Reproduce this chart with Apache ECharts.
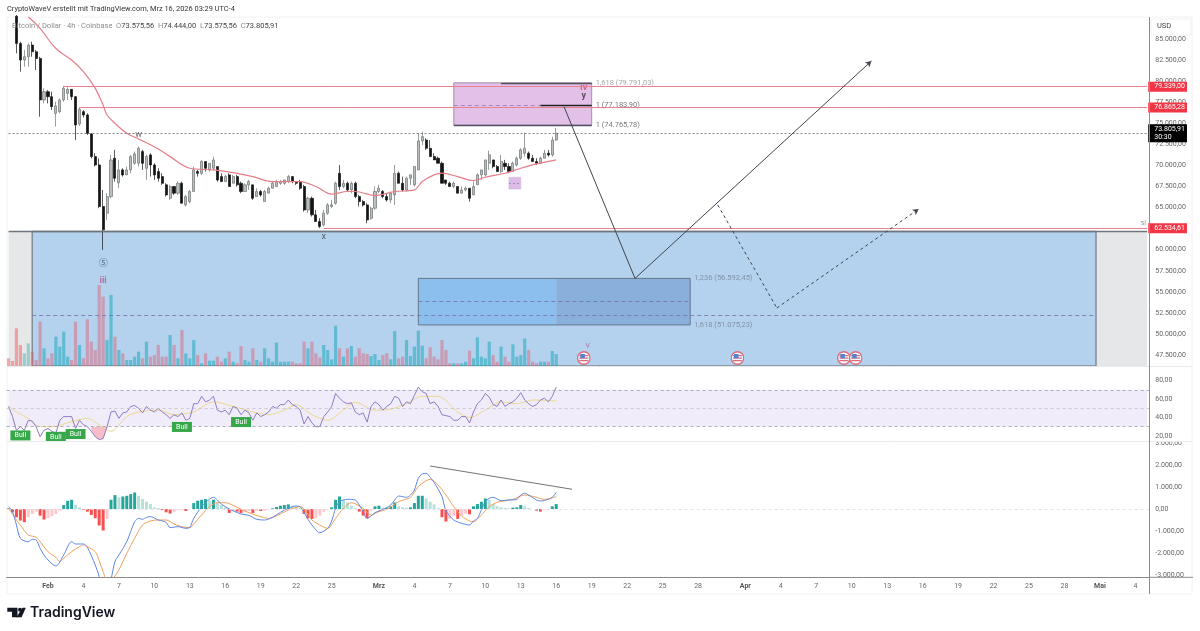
<!DOCTYPE html>
<html lang="de">
<head>
<meta charset="UTF-8">
<title>Bitcoin / Dollar 4h</title>
<script src="https://cdn.jsdelivr.net/npm/echarts@6/dist/echarts.min.js"></script>
<style>
  html, body { margin: 0; padding: 0; background: #fff; }
  #main { width: 1200px; height: 631px; }
</style>
</head>
<body>
<div id="main"></div>
<script>
// x axis: one slot per 8h, Feb 1 is slot 10
var slotCount = 290;
var tickIndex = [10,19,28,37,46,55,64,73,82,94,103,112,121,130,139,148,157,166,175,187,196,205,214,223,232,241,250,259,268,277,286];
var tickLabels = ['Feb','4','7','10','13','16','19','22','25','Mrz','4','7','10','13','16','19','22','25','28','Apr','4','7','10','13','16','19','22','25','28','Mai','4'];
var monthLabels = ['Feb','Mrz','Apr','Mai'];

// [open, close, low, high], the first two bars are above the visible range
var candles = [
  ['-','-','-','-'],['-','-','-','-'],[87700,84470,83290,87830],[84470,82500,81120,84670],[82500,82890,81710,83680],
  [82890,84270,81710,84470],[84270,83480,82890,84670],[83480,82690,81310,83680],[82690,77760,75780,82890],[77760,78740,77360,79140],
  [78740,78150,77360,78940],[78150,76970,76570,78740],[76170,77050,74600,77560],[76370,77760,76170,77950],[77760,79140,77560,79420],
  [78550,79020,77760,79260],[79020,78150,77760,78860],[78150,74790,73020,78230],[74910,76650,74680,76890],[76370,75980,75700,76570],
  [75980,73810,73610,76170],[73730,71040,70840,73810],[71040,70050,69860,71440],[70050,65120,64920,70840],[65120,62350,59980,67090],
  [64330,66300,63540,66700],[66300,70640,66100,71240],[70840,68470,68080,71840],[67930,69460,67290,70640],[69460,68870,68670,69660],
  [68870,69460,68870,69860],[69460,71040,69070,71240],[70250,71360,70050,71640],[70250,72030,69860,72240],[71640,70250,69460,71840],
  [69660,71040,68280,71240],[71240,70050,68670,71440],[70050,68870,68280,70250],[69260,68480,68080,69660],[68670,67880,67690,69070],
  [67690,66500,66300,67880],[66100,67490,65910,67690],[67490,66700,66500,67490],[66700,67880,66500,68080],[67880,65510,65510,68080],
  [65310,66300,65120,66500],[65710,66900,65510,67090],[66900,69460,66900,69860],[69260,69060,68670,69460],[69060,70450,68870,70640],
  [70450,69660,69260,70450],[69460,70250,69260,70250],[69660,70640,69460,71040],[69860,68270,68080,69860],[68670,68080,68080,69060],
  [68080,68670,68080,68870],[68870,67490,67490,69060],[67880,68670,67880,68870],[68670,67690,67490,68870],[67880,66900,66700,68080],
  [66900,67690,66900,67880],[67690,68080,67090,68280],[67690,66100,65910,67690],[66300,66900,66300,67290],[66900,66500,66300,67090],
  [65710,66900,65710,67090],[66700,67290,66700,67490],[67290,67880,67290,68080],[67490,68080,67490,68280],[67880,68080,67690,68280],
  [67880,68280,67690,68280],[68080,68670,67880,68870],[68670,68080,67880,68670],[68080,67880,67690,68080],[68080,67290,67090,68280],
  [67490,64720,64520,67690],[64720,66100,64330,66300],[66100,64130,63930,66300],[64130,63340,63340,64720],[63340,62750,62550,63740],
  [62950,64330,62750,64720],[64330,65320,64130,65510],[65120,65320,64920,65910],[65510,67880,65320,68080],[69060,67490,67090,70050],
  [67490,67880,67290,68280],[67880,67090,66900,68080],[67090,67880,66700,68080],[67880,66300,66100,68080],[66300,65710,65120,66500],
  [65710,65310,65120,65910],[65310,63530,63130,65510],[63730,64920,63530,65120],[64920,66900,64720,67490],[66900,67290,66700,67690],
  [66900,66300,66100,67090],[66300,65900,65710,66700],[65900,66700,65510,66900],[66500,69070,65310,70050],[69070,67880,67880,69260],
  [67880,67090,66890,68670],[67090,68470,66890,68670],[68470,68880,67690,68880],[67690,69860,67490,69860],[69460,72900,69460,73800],
  [72900,73410,72420,74000],[73010,72030,71830,73210],[72030,71040,71040,73010],[71040,70650,70650,71440],[70850,70250,70250,71040],
  [70250,67880,67880,70450],[68270,67880,67690,68270],[67880,67490,67490,68080],[67490,67880,67290,68080],[67490,66700,66700,67490],
  [66700,67090,66700,67490],[67090,67290,66900,67490],[67290,66100,65710,67290],[66500,67490,66500,68080],[67690,68880,67690,69070],
  [68880,69460,68280,69460],[68870,70650,68670,70650],[70250,71250,69460,71750],[70650,69860,69660,70650],[69860,69260,69260,70050],
  [69260,70450,69070,71240],[70250,69860,69460,70650],[69860,69260,69070,70250],[69260,70250,69260,70450],[70050,70850,69860,71040],
  [70850,71840,70650,72030],[71440,72030,71040,73880],[71440,70850,70650,71640],[70850,70450,70450,71240],[70450,70250,70050,70850],
  [70250,70850,70250,71040],[70850,71440,70850,71840],[71440,71240,71050,71840],[71240,73010,71040,73410],[73010,73806,72900,74444]
];

var volumes = [
  23,15,113,63,38,68,43,18,133,53,
  23,38,88,58,103,28,18,133,63,23,
  140,73,48,243,208,78,213,88,48,38,
  18,18,28,43,23,73,28,33,63,28,
  28,93,63,23,108,38,23,78,33,8,
  38,16,16,28,13,23,43,13,8,60,
  18,13,53,18,13,53,23,13,70,13,
  13,13,13,8,8,73,53,73,38,25,
  63,48,20,121,53,28,53,60,28,53,
  38,36,30,36,18,33,38,20,105,23,
  28,78,30,58,106,61,23,56,28,20,
  78,48,8,8,8,8,13,46,23,86,
  28,23,73,33,13,58,28,13,65,28,
  33,82,48,13,8,13,13,13,45,36
];
// direction of the two bars with no visible candle
var firstBarsUp = [false, false];

// moving average on price, read at these slots
var maIndex = [5,8,11,13,16,19,22,24,25,27,30,33,38,41,46,52,57,62,67,71,74,78,82,86,88,93,98,103,105,108,110,114,118,121,126,130,134,139];
var maValues = [87630,86250,84390,83480,82500,81110,79140,77160,75980,74990,73810,73130,71950,71040,69660,69460,69150,68670,68080,68080,68080,67490,66580,66900,66900,66420,66900,67090,68080,68870,69070,68670,68200,68590,69070,69660,70170,70650];

var rsi = [
  52,41,26,30,26,37,36,30,19,26,
  28,25,23,37,41,41,41,28,37,32,
  30,25,19,16,17,30,46,47,39,45,
  46,52,53,50,45,52,48,46,50,46,
  43,39,43,41,45,37,39,55,55,63,
  57,59,63,48,46,48,43,52,50,43,
  48,45,37,45,41,43,46,52,50,54,
  54,59,54,52,48,33,41,34,30,30,
  41,46,52,66,61,57,55,56,46,43,
  45,35,52,57,54,48,52,55,63,61,
  52,57,55,64,73,68,66,55,57,52,
  43,42,41,37,37,41,41,34,46,55,
  59,66,62,54,52,59,52,55,57,61,
  67,59,55,52,54,59,61,57,63,73
];
var rsiMaIndex = [0,2,5,8,11,16,20,23,26,30,33,38,42,47,52,57,62,66,70,73,77,81,85,88,93,97,101,105,109,114,117,121,125,129,133,139];
var rsiMaValues = [52,46,39,30,30,35.5,39,32,25,41,46,48,43,46,57,52,46,43,48,54,43,37,48,56.5,48,49,55,63,63,46,40,48,57,55,59,58];

var macdIndex = [0,1,2,3,5,6,7,8,9,10,12,14,16,17,18,19,20,22,23,24,25,26,27,28,30,32,33,34,35,36,38,40,41,43,45,46,47,49,50,52,53,54,56,59,61,63,65,67,69,71,73,74,75,76,77,79,81,82,83,84,86,88,89,90,91,92,93,95,96,97,98,99,100,101,102,103,104,105,106,107,108,110,111,113,115,117,118,119,120,121,122,123,125,127,129,130,131,132,134,135,137,138,139];
var macdValues = [106,-121,-727,-1333,-1485,-1379,-1409,-1788,-2090,-2318,-2590,-2090,-1485,-1590,-1590,-1590,-1742,-2545,-3075,-3985,-4136,-3227,-2394,-2090,-1485,-576,-424,-470,-379,-348,-500,-606,-848,-803,-879,-833,-424,106,303,530,409,227,0,-227,-288,-470,-500,-379,-152,30,136,106,-167,-470,-727,-1076,-879,-545,30,333,439,409,182,-121,-424,-318,-167,-15,61,182,409,591,561,530,636,864,1394,1591,1621,1439,1212,561,-76,-500,-651,-727,-545,-424,-45,333,485,530,379,409,439,636,712,636,409,364,439,530,758];
var signalIndex = [0,2,3,4,5,7,8,10,12,13,14,16,18,19,20,22,23,24,25,26,27,28,30,32,34,36,38,40,42,44,46,47,49,51,53,55,58,61,64,66,69,71,74,77,79,81,83,85,87,90,92,94,96,99,102,104,106,107,109,111,113,115,117,118,120,122,124,128,131,134,136,139];
var signalValues = [30,-500,-727,-985,-1182,-1288,-1485,-1939,-2197,-2394,-2242,-1939,-1712,-1636,-1712,-1939,-2348,-2848,-3227,-3227,-3045,-2772,-2015,-1333,-727,-545,-500,-500,-682,-803,-848,-682,-273,106,288,288,76,-167,-348,-424,-227,-45,106,-500,-727,-879,-424,30,288,30,-273,-121,-15,333,530,1015,1288,1348,1091,636,106,-318,-545,-576,-273,106,303,439,636,530,439,561];
var macdHist = [
  30,-150,-375,-525,-600,-375,-225,-120,-300,-480,
  -420,-330,-225,-75,180,375,420,180,75,-30,
  -120,-270,-420,-750,-975,-450,420,630,525,570,
  600,675,750,600,450,330,225,75,45,-45,
  -150,-210,-120,-45,-30,-90,0,270,375,420,
  450,375,420,300,180,75,-180,-75,-120,-180,
  -150,-90,-180,-75,-90,-75,-30,30,90,150,
  180,210,150,120,45,-225,-420,-450,-420,-300,
  -120,-30,75,420,570,420,300,150,30,-120,
  -300,-420,-75,120,150,60,60,120,300,120,
  75,60,75,270,600,600,480,330,210,45,
  -375,-570,-450,-330,-450,-300,-210,-240,120,225,
  330,480,420,225,120,75,45,30,60,75,
  180,120,45,0,-75,-120,-30,-30,120,225
];

// axis ticks
var priceTicks = [85000,82500,80000,77500,75000,72500,70000,67500,65000,62500,60000,57500,55000,52500,50000,47500];
var rsiTicks = [80,60,40,20];
var macdTicks = [3000,2000,1000,0,-1000,-2000,-3000];

// drawn levels
var lastPrice = 73805.91;
var resistance1 = 79339, resistance2 = 76865.28, stopLevel = 62534.61;
var zoneTop = 62157, zoneMid = 52169;
var purpleTop = 79791.03, purpleMid = 77183.90, purpleBottom = 74765.78;
var blueTop = 56592.45, blueMid = 53829, blueBottom = 51075.23;
var smallBoxTop = 68587, smallBoxBottom = 67199, smallBoxMid = 67900;

// wave path as slot + price
var solidIndex = [141,159,219];
var solidPrice = [76926,56592,82382];
var dashedIndex = [180,195,231];
var dashedPrice = [65301,53082,64826];

// wave notes
var noteIndex = [33,80,24,24,146,146,147,288];
var notePrice = [73604,61505,58420,56286,79180,78231,48580,63172];
var noteText = ['w','x','⑤','iii','iv','y','v','si'];
var noteColor = ['#444','#444','#2d4a6a','#b5558a','#e0406a','#333','#a56fae','#777'];

var fibIndex = [149,149,149,174,174];
var fibPrice = [79791,77184,74766,56592,51075];
var fibText = ['1,618 (79.791,03)','1 (77.183,90)','1 (74.765,78)','1,236 (56.592,45)','1,618 (51.075,23)'];
var fibColor = ['#8f8f8f','#555','#555','#75859a','#75859a'];

var flagIndex = [146,185,212,215];
var flagPrice = 47151;

var FONT = 'Roboto, "Liberation Sans", sans-serif';
var categories = [];
for (var i = 0; i < slotCount; i++) categories.push(String(i));

function de(v) {
  return v.toLocaleString('de-DE', {minimumFractionDigits: 2, maximumFractionDigits: 2});
}
function pairs(xs, ys) {
  return xs.map(function (x, k) { return [x, ys[k]]; });
}
function isUp(k) {
  return k < firstBarsUp.length ? firstBarsUp[k] : candles[k][1] >= candles[k][0];
}
function seg(i1, p1, i2, p2, color, width, type) {
  return [
    {coord: [i1, p1], lineStyle: {color: color, width: width, type: type || 'solid'}},
    {coord: [i2, p2]}
  ];
}
function box(i1, p1, i2, p2, fill, border, bw) {
  return [
    {coord: [i1, p1], itemStyle: {color: fill, borderColor: border || 'transparent', borderWidth: bw || 0}},
    {coord: [i2, p2]}
  ];
}
function tagLine(start, price, text) {
  return [
    {coord: [start, price], lineStyle: {color: '#e8818d', width: 1, type: 'solid'},
      label: {show: true, position: 'end', distance: 1, formatter: text, color: '#fff', fontSize: 7, fontFamily: FONT,
        backgroundColor: '#f23645', padding: [2, 2, 1, 6]}},
    {coord: [289, price]}
  ];
}
function xAxis(gridIndex, show) {
  return {
    type: 'category', gridIndex: gridIndex, data: categories,
    axisLine: {show: show, onZero: false, lineStyle: {color: '#888'}},
    axisTick: {show: false}, splitLine: {show: false},
    axisLabel: {
      show: show, margin: 5, fontSize: 7, color: '#666', fontFamily: FONT,
      interval: function (idx) { return tickIndex.indexOf(idx) >= 0; },
      formatter: function (val, idx) {
        var t = tickLabels[tickIndex.indexOf(idx)];
        return monthLabels.indexOf(t) >= 0 ? '{b|' + t + '}' : t;
      },
      rich: {b: {fontSize: 7, fontWeight: 'bold', color: '#555', fontFamily: FONT}}
    }
  };
}
function yAxis(gridIndex, min, max, ticks, fmt) {
  return {
    type: 'value', gridIndex: gridIndex, position: 'right', min: min, max: max, scale: true,
    axisLine: {show: false}, axisTick: {show: false}, splitLine: {show: false},
    axisLabel: {show: true, customValues: ticks, margin: 6, fontSize: 7, color: '#666', fontFamily: FONT, formatter: fmt}
  };
}

var flagSvg = '<svg xmlns="http://www.w3.org/2000/svg" width="28" height="28" viewBox="0 0 28 28">' +
  '<circle cx="14" cy="14" r="12.5" fill="#fff" stroke="#e8545f" stroke-width="2.6"/>' +
  '<rect x="5" y="8" width="18" height="2.4" fill="#e8545f"/><rect x="5" y="13" width="18" height="2.4" fill="#e8545f"/>' +
  '<rect x="5" y="18" width="18" height="2.4" fill="#e8545f"/><rect x="7" y="6" width="9" height="8.5" fill="#3f6fc4"/></svg>';

var myChart = echarts.init(document.getElementById('main'), null, {renderer: 'canvas'});

var option = {
  animation: false,
  backgroundColor: '#fff',
  grid: [
    {left: 6.6, width: 1142.6, top: 17, height: 349},
    {left: 6.6, width: 1142.6, top: 366.5, height: 75},
    {left: 6.6, width: 1142.6, top: 441.5, height: 135.8}
  ],
  xAxis: [xAxis(0, false), xAxis(0, false), xAxis(1, false), xAxis(2, true)],
  yAxis: [
    yAxis(0, 46202, 87602, priceTicks, de),
    {type: 'value', gridIndex: 0, min: 0, max: 1047, show: false, splitLine: {show: false}},
    yAxis(1, 13.9, 95.4, rsiTicks, de),
    yAxis(2, -3105, 3068, macdTicks, de)
  ],
  series: [
    // zones and boxes behind the candles
    {
      type: 'line', xAxisIndex: 0, yAxisIndex: 0, data: [], silent: true,
      markArea: {
        silent: true,
        data: [
          box(0, zoneTop, 289, 46202, '#e6e7e9'),
          box(6, zoneTop, 276, 46202, '#b4d1ed', '#7d8792', 1.4),
          box(113, purpleTop, 148, purpleBottom, '#e3c0e8', '#8a7f95', 0.8),
          box(104, blueTop, 139, blueBottom, '#8dbfee'),
          box(139, blueTop, 173, blueBottom, '#88b0da'),
          box(104, blueTop, 173, blueBottom, 'transparent', '#66788f', 1),
          box(127, smallBoxTop, 130, smallBoxBottom, '#dcbce6', '#cdb3dc', 0.6)
        ]
      }
    },
    {
      type: 'bar', xAxisIndex: 0, yAxisIndex: 1, barWidth: 3.2, silent: true, data: volumes,
      itemStyle: {color: function (p) {
        if (p.dataIndex < 6) return isUp(p.dataIndex) ? 'rgba(38,166,154,0.4)' : 'rgba(242,90,90,0.5)';
        return isUp(p.dataIndex) ? 'rgba(30,170,190,0.55)' : 'rgba(225,90,110,0.45)';
      }}
    },
    {
      type: 'candlestick', xAxisIndex: 0, yAxisIndex: 0, barWidth: 2.6, silent: true, clip: true, data: candles,
      itemStyle: {color: '#b9bfbf', color0: '#141414', borderColor: '#6f7474', borderColor0: '#141414', borderWidth: 0.7}
    },
    {
      type: 'line', xAxisIndex: 0, yAxisIndex: 0, smooth: 0.35, symbol: 'none', silent: true,
      data: pairs(maIndex, maValues), lineStyle: {color: '#e67c88', width: 1.2}
    },
    // price levels and drawn lines
    {
      type: 'line', xAxisIndex: 0, yAxisIndex: 0, data: [], silent: true,
      markLine: {
        silent: true, symbol: 'none', label: {show: false},
        data: [
          tagLine(14, resistance1, de(resistance1)),
          tagLine(18, resistance2, de(resistance2)),
          tagLine(80, stopLevel, de(stopLevel)),
          [{coord: [0, lastPrice], lineStyle: {color: '#666', width: 0.8, type: [2, 2]},
            label: {show: true, position: 'end', distance: 1, color: '#fff', fontSize: 7, fontFamily: FONT, lineHeight: 8,
              backgroundColor: '#000', padding: [1, 2, 1, 6], formatter: de(lastPrice) + '\n30:30'}},
           {coord: [289, lastPrice]}],
          seg(0, zoneTop, 289, zoneTop, '#6e757d', 1.4),
          seg(6, zoneMid, 276, zoneMid, '#7a6fa8', 0.8, [4, 3]),
          seg(104, blueMid, 173, blueMid, '#6f6ea6', 0.8, [4, 3]),
          seg(113, purpleMid, 135, purpleMid, '#9a78a8', 0.8, [4, 3]),
          seg(135, purpleMid, 148, purpleMid, '#222', 1.3),
          seg(113, purpleBottom, 148, purpleBottom, '#55505f', 1.4),
          seg(125, purpleTop, 148, purpleTop, '#55505f', 1.4),
          seg(127, smallBoxMid, 130, smallBoxMid, '#9a7fb0', 0.8, [2, 2]),
          seg(solidIndex[0], solidPrice[0], solidIndex[1], solidPrice[1], '#3f4650', 1),
          seg(dashedIndex[0], dashedPrice[0], dashedIndex[1], dashedPrice[1], '#3f4650', 1, [3, 3])
        ]
      }
    },
    // the two arrow legs carry a head
    {
      type: 'line', xAxisIndex: 0, yAxisIndex: 0, data: [], silent: true,
      markLine: {
        silent: true, symbol: ['none', 'arrow'], symbolSize: [5, 6], label: {show: false},
        data: [
          seg(solidIndex[1], solidPrice[1], solidIndex[2], solidPrice[2], '#3f4650', 1),
          seg(dashedIndex[1], dashedPrice[1], dashedIndex[2], dashedPrice[2], '#3f4650', 1, [3, 3])
        ]
      }
    },
    {
      type: 'scatter', xAxisIndex: 0, yAxisIndex: 0, symbolSize: 0, silent: true,
      data: noteIndex.map(function (x, k) {
        return {value: [x, notePrice[k]], label: {show: true, position: 'inside', formatter: noteText[k], color: noteColor[k],
          fontSize: k === 7 ? 7 : 9, fontWeight: (k === 3 || k === 4 || k === 5) ? 'bold' : 'normal', fontFamily: k === 2 ? '"Noto Sans CJK SC"' : FONT}};
      })
    },
    {
      type: 'scatter', xAxisIndex: 0, yAxisIndex: 0, symbolSize: 0, silent: true,
      data: fibIndex.map(function (x, k) {
        return {value: [x, fibPrice[k]], label: {show: true, position: 'right', distance: 0, formatter: fibText[k], color: fibColor[k],
          fontSize: 7.5, fontFamily: FONT}};
      })
    },
    {
      type: 'scatter', xAxisIndex: 0, yAxisIndex: 0, silent: true, symbolSize: 14,
      symbol: 'image://data:image/svg+xml;charset=utf-8,' + encodeURIComponent(flagSvg),
      data: flagIndex.map(function (x) { return [x, flagPrice]; })
    },
    // RSI pane
    {
      type: 'line', xAxisIndex: 2, yAxisIndex: 2, data: [], silent: true,
      markArea: {silent: true, data: [box(0, 70, 289, 30, '#f0ecf9')]},
      markLine: {
        silent: true, symbol: 'none', label: {show: false},
        data: [
          {yAxis: 70, lineStyle: {color: '#a9a3b0', width: 0.9, type: [3, 3]}},
          {yAxis: 50, lineStyle: {color: '#c4bfca', width: 0.8, type: [3, 3]}},
          {yAxis: 30, lineStyle: {color: '#a9a3b0', width: 0.9, type: [3, 3]}}
        ]
      }
    },
    {
      type: 'line', xAxisIndex: 2, yAxisIndex: 2, symbol: 'none', silent: true, connectNulls: false,
      data: rsi.map(function (v, k) { return k >= 21 && k <= 25 ? v : null; }),
      lineStyle: {opacity: 0}, areaStyle: {origin: 30, color: '#f7b6c4', opacity: 0.9}
    },
    {
      type: 'line', xAxisIndex: 2, yAxisIndex: 2, smooth: 0.3, symbol: 'none', silent: true,
      data: pairs(rsiMaIndex, rsiMaValues), lineStyle: {color: '#ecd98f', width: 1}
    },
    {
      type: 'line', xAxisIndex: 2, yAxisIndex: 2, symbol: 'none', silent: true, data: rsi,
      lineStyle: {color: '#8f7cc6', width: 1},
      markPoint: {
        silent: true, symbol: 'rect', symbolSize: [20, 10],
        itemStyle: {color: '#36a84a', borderRadius: 1},
        label: {show: true, position: 'inside', formatter: 'Bull', color: '#fff', fontSize: 7, fontFamily: FONT},
        data: [{coord: [3, 20.5]}, {coord: [12, 19]}, {coord: [17, 22]}, {coord: [44, 29.7]}, {coord: [59, 35]}]
      }
    },
    // MACD pane
    {
      type: 'bar', xAxisIndex: 3, yAxisIndex: 3, barWidth: 3, silent: true, data: macdHist,
      itemStyle: {color: function (p) {
        var v = p.value, prev = p.dataIndex > 0 ? macdHist[p.dataIndex - 1] : 0;
        if (v >= 0) return v >= prev ? '#26a69a' : '#b6e0da';
        return v < prev ? '#f9504f' : '#fdc9cf';
      }},
      markLine: {
        silent: true, symbol: 'none', label: {show: false},
        data: [
          {yAxis: 0, lineStyle: {color: '#ddd', width: 0.8, type: [3, 3]}},
          seg(107, 1955, 143, 895, '#777', 1.1)
        ]
      }
    },
    {
      type: 'line', xAxisIndex: 3, yAxisIndex: 3, smooth: 0.3, symbol: 'none', silent: true,
      data: pairs(signalIndex, signalValues), lineStyle: {color: '#f0a05a', width: 1}
    },
    {
      type: 'line', xAxisIndex: 3, yAxisIndex: 3, smooth: 0.3, symbol: 'none', silent: true,
      data: pairs(macdIndex, macdValues), lineStyle: {color: '#5f86e6', width: 1}
    }
  ],
  graphic: [
    // frame and pane separators
    {type: 'rect', silent: true, z: 0, shape: {x: 7, y: 17, width: 1185, height: 577}, style: {fill: 'none', stroke: '#f1f2f4', lineWidth: 1}},
    {type: 'line', silent: true, z: 10, shape: {x1: 7, y1: 366.5, x2: 1192, y2: 366.5}, style: {stroke: '#e8e9eb', lineWidth: 1}},
    {type: 'rect', silent: true, z: 9, shape: {x: 1151, y: 439, width: 41, height: 2}, style: {fill: '#fff'}},
    {type: 'line', silent: true, z: 10, shape: {x1: 7, y1: 441.5, x2: 1192, y2: 441.5}, style: {stroke: '#e8e9eb', lineWidth: 1}},
    {type: 'line', silent: true, z: 10, shape: {x1: 1149.5, y1: 17, x2: 1149.5, y2: 594}, style: {stroke: '#8a8d91', lineWidth: 1}},
    {type: 'line', silent: true, z: 10, shape: {x1: 1149.5, y1: 577.3, x2: 1193, y2: 577.3}, style: {stroke: '#8a8d91', lineWidth: 1}},
    // USD box
    {type: 'rect', silent: true, z: 9, shape: {x: 1151, y: 19, width: 40, height: 16}, style: {fill: '#fff', stroke: '#f0f1f3', lineWidth: 1}},
    {type: 'text', silent: true, z: 10, x: 1157, y: 26.5, style: {text: 'USD', fill: '#444', fontSize: 7.5, fontFamily: FONT, verticalAlign: 'middle'}},
    // header
    {type: 'text', silent: true, z: 10, x: 7, y: 9.5, style: {text: 'CryptoWaveV erstellt mit TradingView.com, Mrz 16, 2026 03:29 UTC-4', fill: '#333', fontSize: 7.4, fontFamily: FONT, verticalAlign: 'middle'}},
    {type: 'text', silent: true, z: 10, x: 12, y: 26, style: {
      text: '{g|Bitcoin / Dollar · 4h · Coinbase  O}{d|73.575,56}{g|  H}{d|74.444,00}{g|  L}{d|73.575,56}{g|  C}{d|73.805,91}',
      verticalAlign: 'middle',
      rich: {
        g: {fill: '#8a8d91', fontSize: 7.5, fontFamily: FONT},
        d: {fill: '#444', fontSize: 7.5, fontFamily: FONT}
      }
    }},
    // logo
    {type: 'polygon', silent: true, z: 10, shape: {points: [[7.3, 607.7], [17.5, 607.7], [17.5, 617.3], [12, 617.3], [12, 611.8], [7.3, 611.8]]}, style: {fill: '#131722'}},
    {type: 'circle', silent: true, z: 10, shape: {cx: 20, cy: 609.7, r: 2}, style: {fill: '#131722'}},
    {type: 'polygon', silent: true, z: 10, shape: {points: [[22.5, 607.7], [25.8, 607.7], [21.6, 617.3], [16.4, 617.3]]}, style: {fill: '#131722'}},
    {type: 'text', silent: true, z: 10, x: 30, y: 612.7, style: {text: 'TradingView', fill: '#131722', fontSize: 14, fontWeight: 600, fontFamily: 'Inter, Roboto, sans-serif', verticalAlign: 'middle'}}
  ]
};

myChart.setOption(option);
</script>
</body>
</html>
